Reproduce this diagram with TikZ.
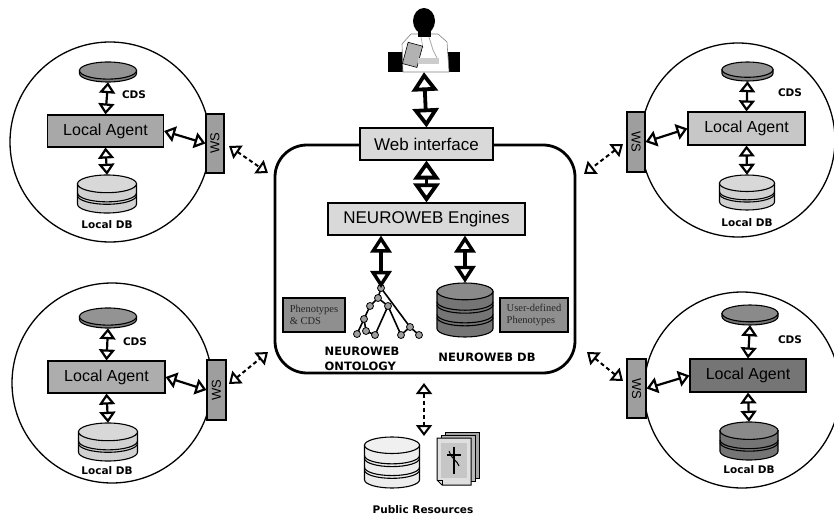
\documentclass[tikz,border=0pt]{standalone}
\usepackage{graphicx}
\usepackage{fontspec}
\setmainfont{Liberation Sans}
\newfontfamily\labelfont{DejaVu Sans}
\newfontfamily\notefont{Liberation Serif}
\usetikzlibrary{arrows.meta,calc}

\definecolor{boxlight}{gray}{0.85}
\definecolor{agentA}{gray}{0.66}
\definecolor{agentB}{gray}{0.78}
\definecolor{agentC}{gray}{0.68}
\definecolor{agentD}{gray}{0.46}
\definecolor{wsgray}{gray}{0.62}
\definecolor{cdsgray}{gray}{0.50}
\definecolor{dblight}{gray}{0.82}
\definecolor{dbdark}{gray}{0.46}
\definecolor{dbwhite}{gray}{0.93}
\definecolor{notegray}{gray}{0.56}
\definecolor{treegray}{gray}{0.62}

\tikzset{
  box/.style={draw=black, line width=1.1pt, inner sep=0pt},
  agent/.style={box, minimum width=116pt, minimum height=32pt, font=\fontsize{16}{18}\selectfont},
  wsbox/.style={box, fill=wsgray, minimum width=18pt, minimum height=59pt, font=\fontsize{13}{15}\selectfont},
  engine/.style={box, fill=boxlight, minimum height=32pt, font=\fontsize{17}{20}\selectfont},
  note/.style={box, fill=notegray, minimum width=62pt, minimum height=34pt, align=left,
    font=\notefont\fontsize{10.5}{12.5}\selectfont, text=black!85},
  site/.style={circle, draw=black, line width=1.3pt, inner sep=0pt},
  lbl/.style={inner sep=0pt, font=\labelfont\bfseries\fontsize{10.5}{13}\selectfont},
  cylline/.style={draw=black, line width=1.1pt},
  twoway/.style={line width=2.2pt, {Triangle[open,length=11pt,width=16pt]}-{Triangle[open,length=11pt,width=16pt]}},
  twowaybig/.style={line width=3.8pt, {Triangle[open,length=19pt,width=26pt]}-{Triangle[open,length=19pt,width=26pt]}},
  twowaymid/.style={line width=3.4pt, {Triangle[open,length=17pt,width=21pt]}-{Triangle[open,length=17pt,width=21pt]}},
  twowaydash/.style={line width=2pt, dash pattern=on 4pt off 3pt, {Triangle[open,length=11pt,width=16pt]}-{Triangle[open,length=11pt,width=16pt]}},
  treeedge/.style={line width=1.6pt, draw=black},
  treenode/.style={circle, draw=black, fill=treegray, line width=0.8pt, inner sep=0pt, minimum size=7pt},
}

% cylinder: name, centre x, top y, width, height, fill, band positions (fractions)
\newcommand\dbcyl[7]{%
  \pgfmathsetmacro\cylR{#4/2}%
  \pgfmathsetmacro\cylRy{#4*0.15}%
  \pgfmathsetmacro\cylL{#2-#4/2}%
  \pgfmathsetmacro\cylRt{#2+#4/2}%
  \pgfmathsetmacro\cylT{#3+\cylRy}%
  \pgfmathsetmacro\cylB{#3+#5-\cylRy}%
  \filldraw[cylline, fill=#6] (\cylL,\cylT) -- (\cylL,\cylB)
     arc[start angle=180, end angle=360, x radius=\cylR pt, y radius=\cylRy pt]
     -- (\cylRt,\cylT) -- cycle;
  \filldraw[cylline, fill=#6!85!white] (#2,\cylT) ellipse[x radius=\cylR pt, y radius=\cylRy pt];
  \ifx\relax#7\relax\else
  \foreach \cylf in {#7} {%
    \draw[cylline] ({\cylL},{\cylT+\cylf*(\cylB-\cylT)})
      arc[start angle=180, end angle=360, x radius=\cylR pt, y radius=\cylRy pt];}%
  \fi
  \node[inner sep=0pt, minimum width=#4pt, minimum height=#5pt] (#1) at (#2,{#3+#5/2}) {};
}

\begin{document}
\begin{tikzpicture}[x=1pt, y=-1pt]
\useasboundingbox (0,0) rectangle (834,518);

% ---------- four local sites ----------
\node[site, minimum size=200pt] (siteA) at (110,142) {};
\node[site, minimum size=194pt] (siteB) at (738,140) {};
\node[site, minimum size=200pt] (siteC) at (112,383) {};
\node[site, minimum size=196pt] (siteD) at (742,390) {};

% site A (top left)
\dbcyl{cdsA}{108}{62}{57}{20}{cdsgray}{}
\dbcyl{dbA}{107}{175}{59}{38}{dblight}{0.45,0.57}
\node[agent, fill=agentA] (laA) at (105.5,131) {Local Agent};
\node[wsbox] (wsA) at (215,143.5) {\rotatebox{90}{WS}};
\node[lbl] (cdslA) at (134,95) {CDS};
\node[lbl] (dblA) at (107,225) {Local DB};
\draw[twoway] (cdsA.south) -- (laA.north);
\draw[twoway] (laA.south) -- (dbA.north);
\draw[twoway] (laA.east) -- (wsA.west);

% site B (top right)
\dbcyl{cdsB}{747.5}{62}{51}{19}{cdsgray}{}
\dbcyl{dbB}{747}{175}{55}{35}{dblight}{0.45,0.57}
\node[agent, fill=agentB, minimum width=117pt, minimum height=33pt] (laB) at (746.5,128.5) {Local Agent};
\node[wsbox, minimum height=60pt] (wsB) at (636,142) {\rotatebox{-90}{WS}};
\node[lbl] (cdslB) at (790,93) {CDS};
\node[lbl] (dblB) at (747,223) {Local DB};
\draw[twoway] (cdsB.south) -- (laB.north);
\draw[twoway] (laB.south) -- (dbB.north);
\draw[twoway] (laB.west) -- (wsB.east);

% site C (bottom left)
\dbcyl{cdsC}{108}{308}{57}{20}{cdsgray}{}
\dbcyl{dbC}{108}{423}{59}{38}{dblight}{0.45,0.57}
\node[agent, fill=agentC, minimum width=117pt] (laC) at (106.5,377) {Local Agent};
\node[wsbox, minimum width=19pt, minimum height=60pt] (wsC) at (216.5,390) {\rotatebox{90}{WS}};
\node[lbl] (cdslC) at (135,342) {CDS};
\node[lbl] (dblC) at (107,471) {Local DB};
\draw[twoway] (cdsC.south) -- (laC.north);
\draw[twoway] (laC.south) -- (dbC.north);
\draw[twoway] (laC.east) -- (wsC.west);

% site D (bottom right)
\dbcyl{cdsD}{750}{305}{56}{20}{dbdark}{}
\dbcyl{dbD}{749}{422}{58}{38}{dbdark}{0.45,0.57}
\node[agent, fill=agentD, minimum height=33pt] (laD) at (748,375.5) {Local Agent};
\node[wsbox, minimum width=19pt] (wsD) at (636.5,388.5) {\rotatebox{-90}{WS}};
\node[lbl] (cdslD) at (790,340) {CDS};
\node[lbl] (dblD) at (749,470) {Local DB};
\draw[twoway] (cdsD.south) -- (laD.north);
\draw[twoway] (laD.south) -- (dbD.north);
\draw[twoway] (laD.west) -- (wsD.east);

% ---------- central NEUROWEB platform ----------
\node[draw=black, line width=2.8pt, rounded corners=32pt, minimum width=300pt, minimum height=228pt,
      inner sep=0pt] (core) at (425,259) {};

\node[engine, minimum width=133pt] (web) at (426.5,144) {Web interface};
\node[engine, minimum width=197pt] (eng) at (426.5,219) {NEUROWEB Engines};

% ontology tree
\coordinate (tA) at (381,288);
\coordinate (tB) at (378,298);
\coordinate (tC) at (370,306);
\coordinate (tD) at (388,306);
\coordinate (tE) at (364,319);
\coordinate (tF) at (357,334);
\coordinate (tG) at (366,331);
\coordinate (tH) at (375,335);
\coordinate (tI) at (410,327);
\coordinate (tJ) at (401,335);
\coordinate (tK) at (419,335);
\draw[treeedge] (tA) -- (tB) -- (tC) -- (tE) -- (tF);
\draw[treeedge] (tE) -- (tG) -- (tH);
\draw[treeedge] (tB) -- (tD) -- (tH);
\draw[treeedge] (tD) -- (tJ);
\draw[treeedge] (tA) -- (tI) -- (tJ);
\draw[treeedge] (tI) -- (tK);
\foreach \t in {tA,tB,tC,tD,tE,tF,tG,tH,tI,tJ,tK}
  \node[treenode] at (\t) {};
\node[inner sep=0pt, minimum width=62pt, minimum height=48pt] (ont) at (386,310) {};

% NEUROWEB database
\dbcyl{ndb}{465}{283}{56}{54}{dbdark}{0.28,0.36,0.62,0.70}

\node[note] (phen) at (314,315) {Phenotypes\\\& CDS};
\node[note, minimum width=68pt] (udef) at (534,315) {User-defined\\Phenotypes};

\node[lbl, font=\labelfont\bfseries\fontsize{11.5}{14.5}\selectfont, align=left] (ontl) at (362,359) {NEUROWEB\\ONTOLOGY};
\node[lbl, font=\labelfont\bfseries\fontsize{11.5}{14}\selectfont] (ndbl) at (487,357) {NEUROWEB DB};

\draw[twowaymid] (eng.south -| tA) -- (tA);
\draw[twowaymid] (eng.south -| ndb.north) -- (ndb.north);
\draw[twowaybig] (web.south) -- (eng.north);

% ---------- clinician ----------
\node[inner sep=0pt, minimum width=72pt, minimum height=66pt] (doc) at (424,39) {};
\fill[black] (388,52) rectangle (460,72);
\fill[black] (424,21) ellipse[x radius=11pt, y radius=13pt];
\filldraw[draw=gray, fill=white, line width=0.6pt]
  (411,34) -- (438,34) -- (447,42) -- (449,72) -- (403,72) -- (402,44) -- cycle;
\fill[black] (418,30) rectangle (431,37);
\draw[gray!70, line width=0.8pt] (429,37) -- (433,50) -- (437,58);
\draw[gray!70, line width=0.6pt] (421,37) -- (423,48);
\filldraw[draw=black, fill=gray!60, line width=0.6pt, rotate around={-15:(413,55)}]
  (405,44) rectangle (420,66);
\fill[gray!40] (418,58) rectangle (439,64);
\draw[twowaybig] (doc.south) -- (web.north);

% ---------- public resources ----------
\dbcyl{pdb}{392}{437}{55}{51}{dbwhite}{0.30,0.38,0.64,0.72}
\node[inner sep=0pt, minimum width=42pt, minimum height=53pt] (docs) at (458,459) {};
\filldraw[draw=black, fill=gray!70, line width=1pt] (445,432) rectangle (479,478);
\filldraw[draw=black, fill=gray!55, line width=1pt] (441,435) rectangle (475,481);
\filldraw[draw=black, fill=gray!25, line width=1pt]
  (437,438) -- (471,438) -- (471,485) -- (442,485) -- (437,480) -- cycle;
\draw[black, line width=0.8pt] (437,480) -- (442,480) -- (442,485);
\fill[gray!45] (441,443) rectangle (467,478);
\draw[black, line width=2pt] (454,447) -- (454,474);
\draw[black, line width=1.6pt] (447,455) -- (461,455);
\draw[black, line width=1pt] (449,451) .. controls (452,460) and (457,460) .. (459,466);
\node[lbl] (publ) at (423,510) {Public Resources};

% ---------- dashed web-service links ----------
\coordinate (lkA1) at (229,146);
\coordinate (lkA2) at (268,173);
\coordinate (lkB1) at (623,144);
\coordinate (lkB2) at (584,174);
\coordinate (lkC1) at (229,384);
\coordinate (lkC2) at (268,352);
\coordinate (lkD1) at (623,381);
\coordinate (lkD2) at (587,352);
\coordinate (lkP1) at (424,383);
\coordinate (lkP2) at (424,436);
\draw[twowaydash] (lkA1) -- (lkA2);
\draw[twowaydash] (lkB1) -- (lkB2);
\draw[twowaydash] (lkC1) -- (lkC2);
\draw[twowaydash] (lkD1) -- (lkD2);
\draw[twowaydash] (lkP1) -- (lkP2);
\end{tikzpicture}
\end{document}
